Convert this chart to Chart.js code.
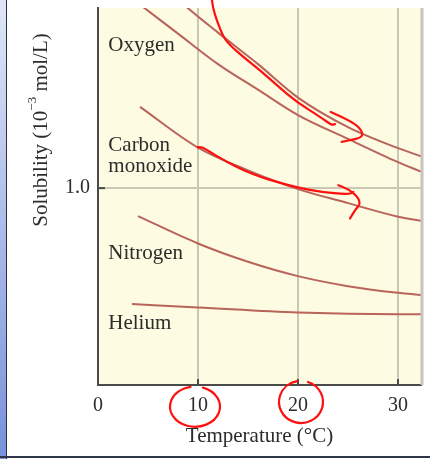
<!DOCTYPE html>
<html>
<head>
<meta charset="utf-8">
<script src="https://cdn.jsdelivr.net/npm/chart.js@4.4.0/dist/chart.umd.min.js"></script>
<style>
  html, body { margin: 0; padding: 0; background: #fff; }
  .page { position: relative; width: 430px; height: 459px; overflow: hidden; }
  #chart { position: absolute; left: 0; top: 0; }
  .strip { position: absolute; left: 0; top: 0; width: 6px; height: 459px;
           background: linear-gradient(#dfe6f6, #7891db); border-right: 1.5px solid #2a2f3f; }
  .base { position: absolute; left: 0; top: 456px; width: 430px; height: 2px; background: #2f3548; }
</style>
</head>
<body>
<div class="page">
  <canvas id="chart" width="430" height="459"></canvas>
  <div class="strip"></div>
  <div class="base"></div>
</div>
<script>
// temperatures (°C) and solubilities (10^-3 mol/L)
const methaneT = [4, 9, 12, 16, 20, 25, 30, 32.3];
const methaneS = [2.14, 1.914, 1.79, 1.63, 1.46, 1.31, 1.203, 1.162];
const oxygenT = [4, 8, 12, 16, 20, 25, 30, 32.3];
const oxygenS = [1.94, 1.785, 1.63, 1.5, 1.371, 1.25, 1.132, 1.084];
const coT = [4.2, 10, 15, 20, 25, 30, 32.3];
const coS = [1.413, 1.206, 1.09, 0.995, 0.924, 0.855, 0.834];
const nitrogenT = [4.0, 10, 15, 20, 25, 30, 32.3];
const nitrogenS = [0.858, 0.719, 0.626, 0.553, 0.502, 0.468, 0.457];
const heliumT = [3.4, 10, 20, 30, 32.3];
const heliumS = [0.411, 0.394, 0.368, 0.359, 0.359];

const xTicks = [0, 10, 20, 30];
const yTicks = [1.0];

// curve names written inside the plot (methane's label is cropped off)
const gasNames = [['Oxygen'], ['Carbon', 'monoxide'], ['Nitrogen'], ['Helium']];

// red hand-drawn marks, in (°C, solubility) pairs
const o2Stroke = [[11.4, 1.954], [11.47, 1.92], [11.87, 1.853], [12.53, 1.768], [13.2, 1.726], [14.53, 1.666],
  [16.2, 1.599], [17.87, 1.523], [19.87, 1.438], [22.2, 1.362], [23.37, 1.32], [23.7, 1.325]];
const o2Head = [[23.27, 1.387], [25.53, 1.337], [26.47, 1.286], [26.37, 1.257], [25.2, 1.244], [24.37, 1.235]];
const coStroke = [[9.97, 1.207], [10.3, 1.213], [11.2, 1.184], [12.87, 1.134], [14.53, 1.091], [16.2, 1.057],
  [17.87, 1.032], [19.87, 1.004], [22.2, 0.981], [25.03, 0.968], [25.53, 0.981]];
const coHead = [[24.03, 1.015], [25.2, 0.995], [26.37, 0.93], [25.7, 0.888], [25.2, 0.846]];
const tickRings = [[9.7, -0.11, 2.5, 0.102], [20.3, -0.086, 2.2, 0.107]];

const SERIF = "'Liberation Serif', 'Times New Roman', serif";
const INK = '#2c2c2c';
const CURVE = '#b9645b';

const pts = (ts, ss) => ts.map((t, i) => ({ x: t, y: ss[i] }));

function curve(ts, ss) {
  return {
    data: pts(ts, ss),
    borderColor: CURVE,
    borderWidth: 2,
    pointRadius: 0,
    cubicInterpolationMode: 'monotone',
    fill: false
  };
}

function smooth(ctx, p) {
  ctx.beginPath();
  ctx.moveTo(p[0][0], p[0][1]);
  for (let i = 1; i < p.length - 1; i++) {
    ctx.quadraticCurveTo(p[i][0], p[i][1], (p[i][0] + p[i + 1][0]) / 2, (p[i][1] + p[i + 1][1]) / 2);
  }
  ctx.lineTo(p[p.length - 1][0], p[p.length - 1][1]);
  ctx.stroke();
}

const paper = {
  id: 'paper',
  beforeDraw(chart) {
    const { ctx, chartArea: a } = chart;
    ctx.save();
    ctx.fillStyle = '#fdfbe1';
    ctx.fillRect(a.left, a.top, a.right - a.left, a.bottom - a.top);
    ctx.restore();
  },
  afterDatasetsDraw(chart) {
    const { ctx, chartArea: a, scales: { x, y } } = chart;
    ctx.save();

    // right edge of the panel
    ctx.strokeStyle = '#c8c6ba';
    ctx.lineWidth = 3;
    ctx.beginPath();
    ctx.moveTo(a.right + 1, a.top);
    ctx.lineTo(a.right + 1, a.bottom);
    ctx.stroke();

    // short inside tick marks
    ctx.strokeStyle = '#4a4a4a';
    ctx.lineWidth = 2;
    xTicks.slice(1).forEach(v => {
      const px = x.getPixelForValue(v);
      ctx.beginPath();
      ctx.moveTo(px, a.bottom);
      ctx.lineTo(px, a.bottom - 6);
      ctx.stroke();
    });
    yTicks.forEach(v => {
      const py = y.getPixelForValue(v);
      ctx.beginPath();
      ctx.moveTo(a.left, py);
      ctx.lineTo(a.left + 7, py);
      ctx.stroke();
    });

    // gas names
    ctx.fillStyle = INK;
    ctx.font = '21px ' + SERIF;
    ctx.textAlign = 'left';
    ctx.textBaseline = 'middle';
    const spots = [1.726, 1.218, 0.67, 0.31];
    gasNames.forEach((lines, i) => {
      lines.forEach((txt, j) => {
        ctx.fillText(txt, x.getPixelForValue(1.03), y.getPixelForValue(spots[i]) + j * 21);
      });
    });

    // y title with superscript exponent
    ctx.translate(41, 130);
    ctx.rotate(-Math.PI / 2);
    const big = '21px ' + SERIF, small = '13px ' + SERIF;
    const parts = [['Solubility (10', big, 0], ['\u22123', small, -8], [' mol/L)', big, 0]];
    let total = 0;
    parts.forEach(p => { ctx.font = p[1]; total += ctx.measureText(p[0]).width; });
    let cx = -total / 2;
    parts.forEach(p => {
      ctx.font = p[1];
      ctx.fillText(p[0], cx, p[2]);
      cx += ctx.measureText(p[0]).width;
    });
    ctx.setTransform(1, 0, 0, 1, 0, 0);

    // red annotations
    ctx.strokeStyle = '#ff1010';
    ctx.lineWidth = 2.2;
    ctx.lineCap = 'round';
    ctx.lineJoin = 'round';
    const toPx = s => s.map(([t, v]) => [x.getPixelForValue(t), y.getPixelForValue(v)]);
    [o2Stroke, o2Head, coStroke, coHead].forEach(s => smooth(ctx, toPx(s)));
    tickRings.forEach(([t, v, rt, rv]) => {
      const cxp = x.getPixelForValue(t), cyp = y.getPixelForValue(v);
      const rx = Math.abs(x.getPixelForValue(t + rt) - cxp);
      const ry = Math.abs(y.getPixelForValue(v + rv) - cyp);
      ctx.beginPath();
      ctx.ellipse(cxp, cyp, rx, ry, 0, -1.25, Math.PI * 2 - 1.75);
      ctx.stroke();
    });

    ctx.restore();
  }
};

new Chart(document.getElementById('chart'), {
  type: 'line',
  data: {
    datasets: [
      curve(methaneT, methaneS),
      curve(oxygenT, oxygenS),
      curve(coT, coS),
      curve(nitrogenT, nitrogenS),
      curve(heliumT, heliumS)
    ]
  },
  options: {
    responsive: false,
    animation: false,
    layout: { padding: { top: 8, right: 9, left: 0, bottom: 0 } },
    plugins: { legend: { display: false }, tooltip: { enabled: false } },
    scales: {
      x: {
        type: 'linear',
        min: 0,
        max: 32.3,
        afterBuildTicks: s => { s.ticks = xTicks.map(v => ({ value: v })); },
        afterFit: s => { s.height = 74; s.paddingLeft = 0; s.paddingRight = 0; },
        grid: {
          drawTicks: false,
          lineWidth: 2,
          color: c => (c.tick && c.tick.value === 0 ? 'rgba(0,0,0,0)' : '#cac7b5')
        },
        border: { color: '#4a4a4a', width: 2 },
        ticks: { color: INK, font: { family: SERIF, size: 20 }, padding: 9, maxRotation: 0 },
        title: {
          display: true,
          text: 'Temperature (\u00B0C)',
          color: INK,
          font: { family: SERIF, size: 21 },
          padding: { top: 0, bottom: 10 }
        }
      },
      y: {
        type: 'linear',
        min: 0,
        max: 1.915,
        afterBuildTicks: s => { s.ticks = yTicks.map(v => ({ value: v })); },
        afterFit: s => { s.width = 98; s.paddingTop = 0; s.paddingBottom = 0; },
        grid: { drawTicks: false, lineWidth: 2, color: '#cac7b5' },
        border: { color: '#4a4a4a', width: 2 },
        ticks: {
          color: INK,
          font: { family: SERIF, size: 20 },
          padding: 8,
          callback: v => v.toFixed(1)
        }
      }
    }
  },
  plugins: [paper]
});
</script>
</body>
</html>
